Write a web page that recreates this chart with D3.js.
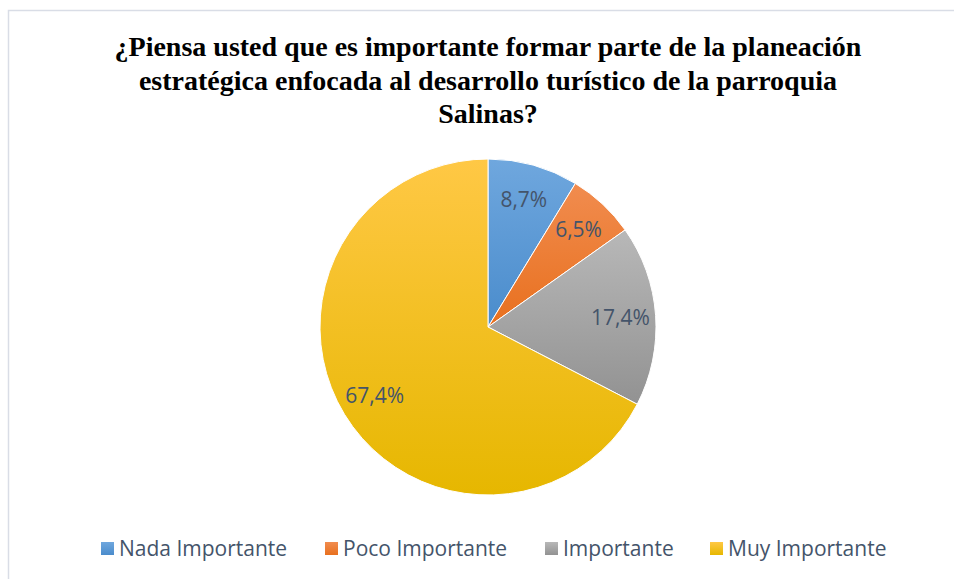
<!DOCTYPE html>
<html><head><meta charset="utf-8">
<script src="https://cdn.jsdelivr.net/npm/d3@7"></script>
<style>body{margin:0;background:#fff}svg{display:block}</style>
</head><body><svg id="c" width="954" height="579"></svg>
<script>
const categories = ["Nada Importante", "Poco Importante", "Importante", "Muy Importante"];
const values = [8.7, 6.5, 17.4, 67.4];
const labels = ["8,7%", "6,5%", "17,4%", "67,4%"];
const colorsTop = ["#6fa7de", "#f18c4f", "#b8b8b8", "#ffc845"];
const colorsBottom = ["#4a8ccc", "#e8701e", "#929292", "#e6b700"];
const titleLines = ["¿Piensa usted que es importante formar parte de la planeación", "estratégica enfocada al desarrollo turístico de la parroquia", "Salinas?"];

const svg = d3.select("#c");
svg.append("rect").attr("x",8.5).attr("y",10.5).attr("width",960).attr("height",600)
  .attr("fill","#fff").attr("stroke","#d9dde6").attr("stroke-width",1.5);

const defs = svg.append("defs");
categories.forEach((c,i)=>{
  const g = defs.append("linearGradient").attr("id","g"+i).attr("x1",0).attr("y1",0).attr("x2",0).attr("y2",1);
  g.append("stop").attr("offset","0%").attr("stop-color",colorsTop[i]);
  g.append("stop").attr("offset","100%").attr("stop-color",colorsBottom[i]);
});

const title = svg.append("text").attr("text-anchor","middle")
  .attr("font-family","'Liberation Serif','Times New Roman',serif").attr("font-weight","bold")
  .attr("font-size",28).attr("fill","#000");
titleLines.forEach((t,i)=>title.append("tspan").attr("x",488).attr("y",56+i*33.5).text(t));

const cx=488, cy=327, R=168;
const pie = d3.pie().sort(null).value(d=>d)(values);
const arc = d3.arc().innerRadius(0).outerRadius(R);
const labelArc = d3.arc().innerRadius(R*0.79).outerRadius(R*0.79);
const g = svg.append("g").attr("transform",`translate(${cx},${cy})`);
g.selectAll("path").data(pie).join("path").attr("d",arc)
  .attr("fill",(d,i)=>`url(#g${i})`).attr("stroke","#fff").attr("stroke-width",1);
g.selectAll("text").data(pie).join("text")
  .attr("transform",d=>`translate(${labelArc.centroid(d)})`)
  .attr("text-anchor","middle").attr("dy","0.35em")
  .attr("font-family","'Open Sans',sans-serif").attr("font-size",21).attr("fill","#44546a")
  .text((d,i)=>labels[i]);

const legendX = [101, 325, 545, 710];
const lg = svg.append("g");
categories.forEach((c,i)=>{
  lg.append("rect").attr("x",legendX[i]).attr("y",542).attr("width",13).attr("height",13).attr("fill",`url(#g${i})`);
  lg.append("text").attr("x",legendX[i]+18).attr("y",556).attr("font-family","'Open Sans',sans-serif")
    .attr("font-size",21).attr("fill","#44546a").text(c);
});
</script></body></html>
